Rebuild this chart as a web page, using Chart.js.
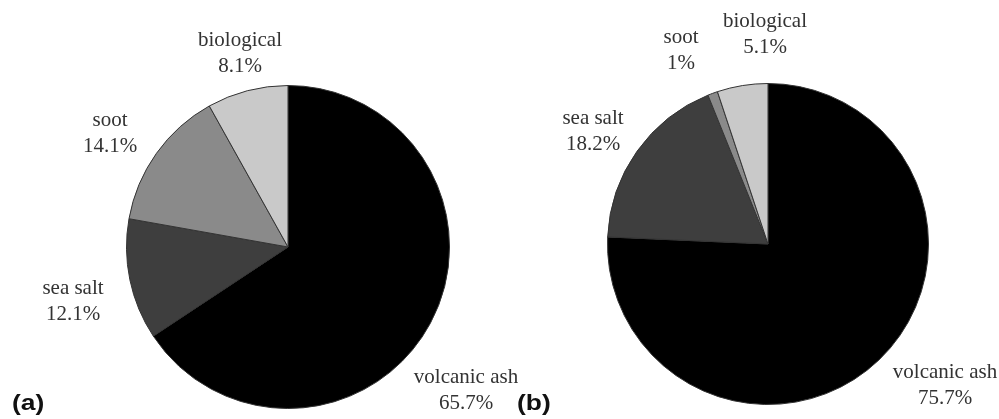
<!DOCTYPE html>
<html>
<head>
<meta charset="utf-8">
<script src="https://cdn.jsdelivr.net/npm/chart.js@4.4.0/dist/chart.umd.min.js"></script>
<style>
  body { margin: 0; background: #fff; }
  #wrap { position: relative; width: 999px; height: 419px; overflow: hidden; }
  .box { position: absolute; top: 0; height: 419px; }
  .tag { position: absolute; font: bold 22px/22px "Liberation Sans", Arial, sans-serif; color: #111;
         transform: scaleX(1.2); transform-origin: left top; }
</style>
</head>
<body>
<div id="wrap">
  <div class="box" style="left:0;width:520px"><canvas id="pieA"></canvas></div>
  <div class="box" style="left:520px;width:479px"><canvas id="pieB"></canvas></div>
  <div class="tag" style="left:12px;top:392px">(a)</div>
  <div class="tag" style="left:517px;top:392px">(b)</div>
</div>
<script>
var categories = ["volcanic ash", "sea salt", "soot", "biological"];
var valuesA = [65.7, 12.1, 14.1, 8.1];
var valuesB = [75.7, 18.2, 1, 5.1];
var labelsA = ["65.7%", "12.1%", "14.1%", "8.1%"];
var labelsB = ["75.7%", "18.2%", "1%", "5.1%"];
var sliceColors = ["#000000", "#3e3e3e", "#8a8a8a", "#c9c9c9"];

// label offsets from the pie centre (first line)
var labelOffsetA = [[178, 130], [-215, 41], [-178, -127], [-48, -207]];
var labelOffsetB = [[177, 128], [-175, -126], [-87, -207], [-3, -223]];

var pieLabels = {
  id: "pieLabels",
  afterDraw: function (chart) {
    var opts = chart.options.plugins.pieLabels;
    var arc = chart.getDatasetMeta(0).data[0];
    var ctx = chart.ctx;
    ctx.save();
    ctx.font = '21px "Liberation Serif", "Times New Roman", serif';
    ctx.fillStyle = "#333";
    ctx.textAlign = "center";
    ctx.textBaseline = "middle";
    categories.forEach(function (name, i) {
      var x = arc.x + opts.offsets[i][0];
      var y = arc.y + opts.offsets[i][1];
      ctx.fillText(name, x, y);
      ctx.fillText(opts.texts[i], x, y + 26);
    });
    ctx.restore();
  }
};

function makePie(id, values, texts, offsets, padding) {
  var ctx = document.getElementById(id).getContext("2d");
  return new Chart(ctx, {
    type: "pie",
    data: {
      labels: categories,
      datasets: [{
        data: values,
        backgroundColor: sliceColors,
        borderColor: "#333",
        borderWidth: 1
      }]
    },
    options: {
      responsive: true,
      maintainAspectRatio: false,
      animation: false,
      layout: { padding: padding },
      plugins: {
        legend: { display: false },
        tooltip: { enabled: false },
        pieLabels: { texts: texts, offsets: offsets }
      }
    },
    plugins: [pieLabels]
  });
}

makePie("pieA", valuesA, labelsA, labelOffsetA, { left: 126, right: 70, top: 85, bottom: 10 });
makePie("pieB", valuesB, labelsB, labelOffsetB, { left: 87, right: 70, top: 83, bottom: 14 });
</script>
</body>
</html>
